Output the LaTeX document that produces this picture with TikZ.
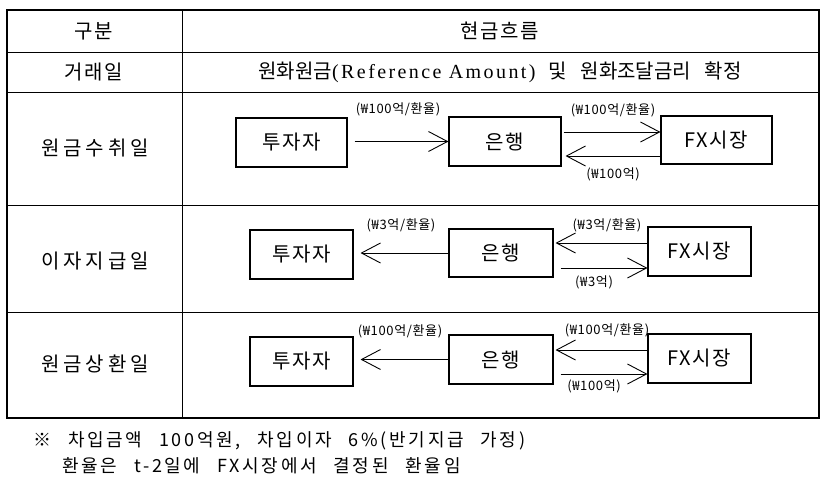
\documentclass[tikz,border=0pt]{standalone}
\usepackage{fontspec}
\setmainfont{Noto Sans CJK KR}
\newfontfamily\krm[LetterSpace=8]{Noto Sans CJK KR}
\newfontfamily\krc[LetterSpace=20]{Noto Sans CJK KR}
\newfontfamily\krw[WordSpace=3]{Noto Sans CJK KR}
\newfontfamily\krs[LetterSpace=5]{Noto Sans CJK KR}
\newfontfamily\krf[LetterSpace=15,WordSpace=2.5]{Noto Sans CJK KR}
\newfontfamily\latser[LetterSpace=12]{Liberation Serif}
\usetikzlibrary{arrows.meta}
\begin{document}
\begin{tikzpicture}[x=1pt,y=-1pt,
  hdr/.style={font=\krm\fontsize{20}{24}\selectfont, inner sep=0pt},
  rowlbl/.style={font=\krc\fontsize{20}{24}\selectfont, inner sep=0pt},
  box/.style={draw, line width=1.1pt, font=\krm\fontsize{20}{24}\selectfont, inner sep=0pt},
  lbl/.style={font=\krs\fontsize{13}{15}\selectfont, inner sep=0pt},
  note/.style={font=\krf\fontsize{18}{21}\selectfont, inner sep=0pt, anchor=west},
  arr/.style={line width=0.9pt, -{Straight Barb[length=19pt,width=20pt,line width=0.9pt]}},
  thin/.style={line width=0.9pt},
  thick/.style={line width=2.3pt}]
\useasboundingbox (0,0) rectangle (827,479);
% table grid
\draw[thin] (182,10) -- (182,418);
\draw[thin] (7,52) -- (819,52);
\draw[thin] (7,92) -- (819,92);
\draw[thin] (7,205) -- (819,205);
\draw[thin] (7,312) -- (819,312);
\draw[thick] (7,10) rectangle (819,418);
% header texts
\node[hdr] (h1) at (94,31) {구분};
\node[hdr] (h2) at (500,31) {현금흐름};
\node[hdr] (r0) at (94,72) {거래일};
\node[hdr, font=\krw\fontsize{20}{24}\selectfont] (r0t) at (500,72) {원화원금{\latser(Reference Amount)} 및 원화조달금리 확정};
\node[rowlbl] (r1) at (95,148) {원금수취일};
\node[rowlbl] (r2) at (95,261) {이자지급일};
\node[rowlbl] (r3) at (95,364) {원금상환일};
% row 1
\node[box, minimum width=111pt, minimum height=49pt] (i1) at (291.5,142.5) {투자자};
\node[box, minimum width=112pt, minimum height=49pt] (b1) at (505,141.5) {은행};
\node[box, minimum width=111pt, minimum height=48pt] (f1) at (716.5,140) {FX시장};
\draw[arr, shorten <=7pt] (i1.east |- b1.west) -- (b1.west);
\draw[arr, shorten <=2pt] (b1.east |- 0,132) -- (f1.west |- 0,132);
\draw[arr, shorten >=4pt] (f1.west |- 0,156) -- (b1.east |- 0,156);
\node[lbl] (l1a) at (398,109) {(₩100억/환율)};
\node[lbl] (l1b) at (613,110) {(₩100억/환율)};
\node[lbl] (l1c) at (613,174) {(₩100억)};
% row 2
\node[box, minimum width=103pt, minimum height=49pt] (i2) at (301.5,254.5) {투자자};
\node[box, minimum width=104pt, minimum height=48pt] (b2) at (501,253) {은행};
\node[box, minimum width=103pt, minimum height=49pt] (f2) at (699.5,251.5) {FX시장};
\draw[arr, shorten >=7pt] (b2.west) -- (i2.east |- b2.west);
\draw[arr, shorten >=2pt] (f2.west |- 0,243) -- (b2.east |- 0,243);
\draw[arr, shorten <=7pt] (b2.east |- 0,268) -- (f2.west |- 0,268);
\node[lbl] (l2a) at (401,225) {(₩3억/환율)};
\node[lbl] (l2b) at (607,225) {(₩3억/환율)};
\node[lbl] (l2c) at (594,282) {(₩3억)};
% row 3
\node[box, minimum width=103pt, minimum height=49pt] (i3) at (301.5,361.5) {투자자};
\node[box, minimum width=104pt, minimum height=49pt] (b3) at (501,359.5) {은행};
\node[box, minimum width=103pt, minimum height=49pt] (f3) at (699.5,358.5) {FX시장};
\draw[arr, shorten >=7pt] (b3.west) -- (i3.east |- b3.west);
\draw[arr, shorten >=2pt] (f3.west |- 0,350) -- (b3.east |- 0,350);
\draw[arr, shorten <=7pt] (b3.east |- 0,374) -- (f3.west |- 0,374);
\node[lbl] (l3a) at (400,331) {(₩100억/환율)};
\node[lbl] (l3b) at (607,330) {(₩100억/환율)};
\node[lbl] (l3c) at (594,386) {(₩100억)};
% footnote
\node[note] (n1) at (33,441) {※ 차입금액 100억원, 차입이자 6\%(반기지급 가정)};
\node[note] (n2) at (62,466) {환율은 t-2일에 FX시장에서 결정된 환율임};
\end{tikzpicture}
\end{document}
